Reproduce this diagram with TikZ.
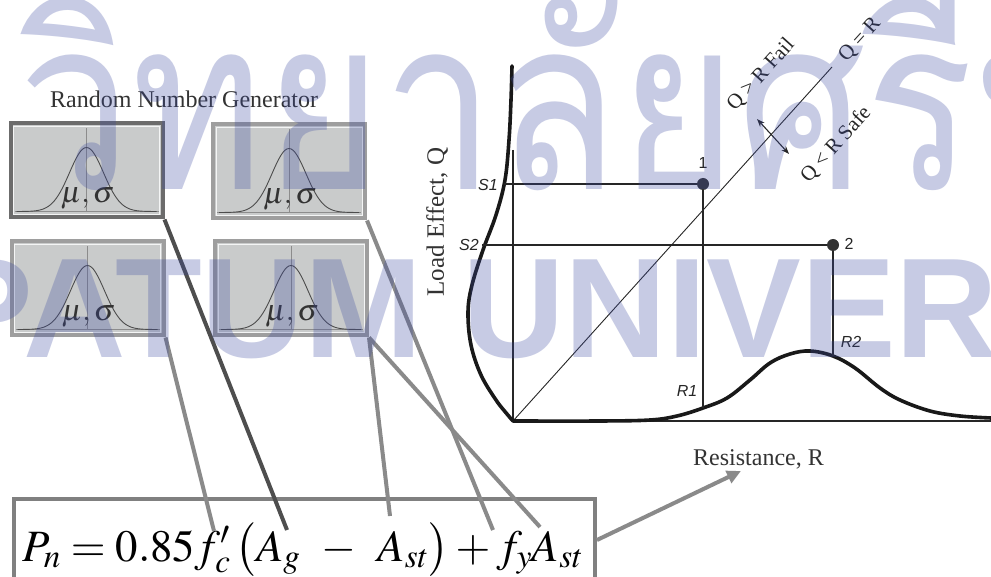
\documentclass[tikz,border=0pt]{standalone}
\usepackage{mathptmx}
\usepackage[no-math]{fontspec}
\setmainfont{Liberation Serif}
\newfontfamily\labsans{Liberation Sans}
\newfontfamily\wmlatin{Liberation Sans}
\newfontfamily\thaiwm[Script=Thai]{Loma}
\usetikzlibrary{arrows.meta,calc}
\definecolor{wmc}{RGB}{60,74,161}
\definecolor{boxfill}{RGB}{201,203,203}
\definecolor{darkframe}{RGB}{108,108,108}
\definecolor{lightframe}{RGB}{158,158,158}
\definecolor{linkdark}{RGB}{78,78,78}
\definecolor{linklight}{RGB}{138,138,138}
\definecolor{fframe}{RGB}{128,128,128}
\newcommand\rngbox[4]{%
  \node[rngframe, draw=#4] (#1) at (#2,#3) {};
  \draw[innerrule] ($(#1.south west)+(5,-5)$) rectangle ($(#1.north east)+(-5,5)$);
  \draw[midrule] (#2,#3-42) -- (#2,#3+42);
  \draw[midrule] (#2-72,#3+41) -- (#2+72,#3+41);
  \draw[bell] plot[domain=-70:70,samples=71,smooth] ({#2+\x},{#3+41-64*exp(-(\x*\x)/578)});
  \node[musig, anchor=base] at (#2+1,#3+32) {$\mu,\sigma$};
}
\begin{document}
\begin{tikzpicture}[x=1pt,y=-1pt,
  rngframe/.style={rectangle, line width=4pt, fill=boxfill, minimum width=152pt, minimum height=94pt, inner sep=0pt},
  innerrule/.style={draw=white!80!boxfill, line width=1pt},
  midrule/.style={draw=black!45, line width=0.6pt},
  bell/.style={draw=black!70, line width=0.9pt},
  musig/.style={font=\fontsize{30}{34}\selectfont, text=black!80, inner sep=0pt},
  link/.style={line width=4pt},
  axisline/.style={line width=1.1pt, draw=black!85},
  thickcurve/.style={line width=3.6pt, line cap=round, line join=round, draw=black!90},
  dot/.style={circle, fill=black!80, minimum size=12pt, inner sep=0pt},
  chartlab/.style={font=\labsans\itshape\fontsize{16}{18}\selectfont, text=black!85, inner sep=0pt},
  numlab/.style={font=\labsans\fontsize{16}{18}\selectfont, text=black!85, inner sep=0pt},
  seriflab/.style={font=\fontsize{24}{28}\selectfont, text=black!80, inner sep=0pt},
  diaglab/.style={font=\fontsize{21}{24}\selectfont, text=black!85, inner sep=0pt, rotate=48},
  wm/.style={text=wmc, text opacity=0.287, inner sep=0pt},
]
\useasboundingbox (0,0) rectangle (991,577);
\fill[white] (0,0) rectangle (991,577);

% title
\node[seriflab, anchor=base west] (title) at (50,108) {Random Number Generator};

% random number boxes
\rngbox{b1}{86.5}{170.5}{darkframe}
\rngbox{b2}{289}{171.5}{lightframe}
\rngbox{b3}{87.5}{288.5}{lightframe}
\rngbox{b4}{291}{288.5}{lightframe}

% formula box
\node[draw=fframe, line width=4pt, minimum width=581pt, minimum height=82pt, inner sep=0pt, anchor=north west] (fbox) at (12,497) {};
\node[anchor=base west, inner sep=0pt] (formula) at (22,561)
  {\resizebox{561pt}{!}{\fontsize{56}{60}\selectfont$P_n = 0.85 f'_c\left(A_g \mkern6mu - \mkern6mu A_{st}\right) + f_y A_{st}$}};

% attachment points on the formula terms
\coordinate (fc) at (214,531);
\coordinate (Ag) at (287,530);
\coordinate (Ast1) at (390,516);
\coordinate (fy) at (493,530);
\coordinate (Ast2) at (540,527);

% connectors
\draw[link, draw=linklight] (b3.south east) -- (fc);
\draw[link, draw=linkdark] (b1.south east) -- (Ag);
\draw[link, draw=linklight] (b4.south east) -- (Ast1);
\draw[link, draw=linklight] (b2.south east) -- (fy);
\draw[link, draw=linklight] (b4.south east) -- (Ast2);

% arrow to resistance
\node[seriflab, anchor=base west] (res) at (693,465) {Resistance, R};
\coordinate (restip) at (741,471);
\draw[link, draw=linklight, -{Triangle[length=14pt,width=13pt]}] (fbox.east) -- (restip);

% chart
\coordinate (O) at (513,421);
\coordinate (axtop) at (513,150);
\coordinate (axright) at (991,421);
\coordinate (qr) at (832,67);
\draw[axisline] (axtop) -- (O) -- (axright);
\draw[axisline, line width=0.9pt] (O) -- (qr);

% load distribution
\draw[thickcurve] plot[smooth, tension=0.6] coordinates {(512,66) (511,100) (509,140) (505,180) (496,215) (483,250) (472,285) (468,312) (471,345) (481,375) (496,400) (507,414) (513,421)};
% resistance distribution
\draw[thickcurve] plot[smooth, tension=0.6] coordinates {(513,421) (600,421) (650,420) (677,416) (703,408) (727,398) (750,380) (770,363) (790,354) (810,351) (833,356) (855,368) (880,388) (900,400) (930,411) (960,416) (991,418)};

\node[dot] (d1) at (703,184) {};
\node[dot] (d2) at (833,245) {};
\coordinate (s1c) at (504,184);
\coordinate (s2c) at (482,245);
\coordinate (r1c) at (703,408);
\coordinate (r2c) at (833,356);
\draw[axisline] (s1c) -- (d1) -- (r1c);
\draw[axisline] (s2c) -- (d2) -- (r2c);

\node[chartlab] (S1) at (488,185) {S1};
\node[chartlab] (S2) at (469,245) {S2};
\node[chartlab] (R1) at (687,391) {R1};
\node[chartlab] (R2) at (851,342) {R2};
\node[numlab] (n1) at (703,163) {1};
\node[numlab] (n2) at (849,244) {2};

\node[seriflab, rotate=90, font=\fontsize{25}{28}\selectfont] (load) at (437,222) {Load Effect, Q};
\node[diaglab] (eq) at (860,40) {Q = R};
\node[diaglab] (fail) at (761,75) {Q > R Fail};
\node[diaglab] (safe) at (836,145) {Q < R Safe};
\coordinate (fa) at (757,119);
\coordinate (sa) at (789,154);
\draw[line width=1.1pt, draw=black!85, {Stealth[length=8pt,width=6pt]}-{Stealth[length=8pt,width=6pt]}] (fa) -- (sa);

% watermark
\node[wm, anchor=base east, font=\thaiwm\fontsize{240}{240}\selectfont] (wmt0) at (18,190) {\scalebox{0.84}[1]{มหา}};
\node[wm, anchor=base west, font=\thaiwm\fontsize{240}{240}\selectfont] (wmt1) at (18,190) {\scalebox{0.84}[1]{วิทยาลัยศรีปทุม}};
\node[wm, anchor=base west, font=\wmlatin\bfseries\fontsize{142}{142}\selectfont] (wml) at (-298,358) {SRIPATUM UNIVERSITY};
\end{tikzpicture}
\end{document}
